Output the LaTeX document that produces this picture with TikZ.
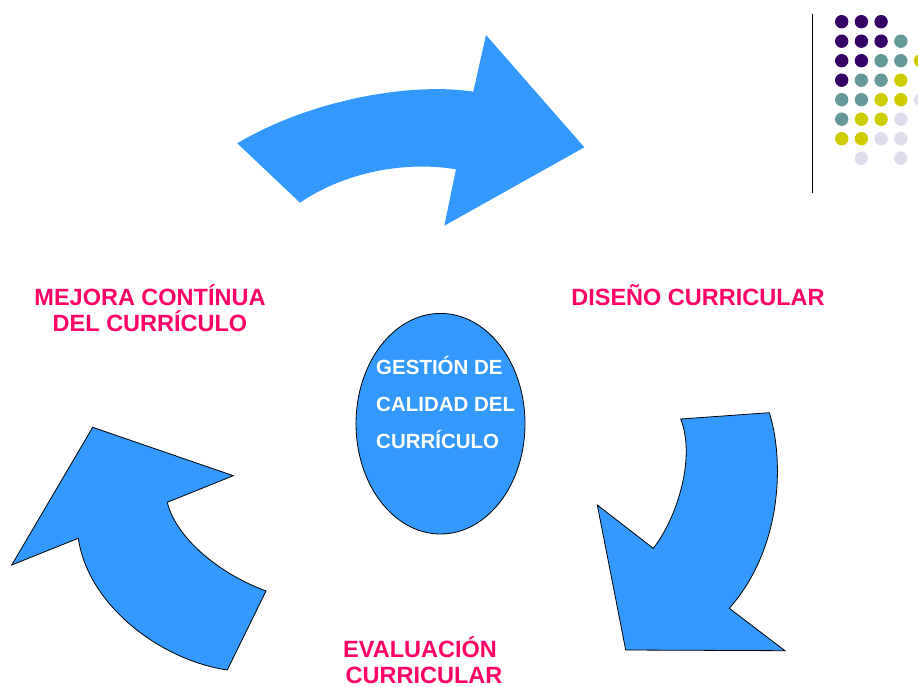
\documentclass[tikz,border=0pt]{standalone}
\usepackage{fontspec}
\setmainfont{Liberation Sans}
\usetikzlibrary{shapes.geometric}
\definecolor{arrowblue}{HTML}{3399FF}
\definecolor{labelpink}{HTML}{FF0066}
\definecolor{dotP}{HTML}{330066}
\definecolor{dotT}{HTML}{669999}
\definecolor{dotY}{HTML}{CCCC00}
\definecolor{dotL}{HTML}{DDDDEE}
\begin{document}
\begin{tikzpicture}[x=1pt,y=-1pt,
  arrowshape/.style={fill=arrowblue},
  outlined/.style={draw=black,line width=0.8pt,line join=miter},
  lbl/.style={text=labelpink,font=\fontsize{23.5}{27}\selectfont\bfseries,inner sep=0pt,anchor=base},
  intext/.style={text=white,font=\fontsize{20.5}{24}\selectfont\bfseries,inner sep=0pt,anchor=base west},
  dotstyle/.style={circle,inner sep=0pt,minimum size=13.4pt}]
\useasboundingbox (0,0) rectangle (918,687);

% top arrow (no outline)
\fill[arrowblue] (237.3,143.3) .. controls (310,100) and (410,82) .. (473.3,91.7)
  -- (486,35) -- (584.3,147.3) -- (444.3,225.7) -- (456,169.3)
  .. controls (400,160) and (340,175) .. (300,202.7) -- cycle;

% right arrow
\filldraw[arrowshape,outlined] (680.7,419) -- (769.3,412.7)
  .. controls (783,455) and (785,545) .. (729.3,608.3)
  -- (785,650.7) -- (625.7,650) -- (597.3,505) -- (653.3,548.3)
  .. controls (677,518) and (696,458) .. (680.7,419) -- cycle;

% left arrow
\filldraw[arrowshape,outlined] (92.7,427.3) -- (233.3,475.7) -- (167.3,502.3)
  .. controls (175,535) and (215,572) .. (266,591)
  -- (227.3,670)
  .. controls (160,660) and (88,605) .. (78.3,538.3)
  -- (11.7,565) -- cycle;

% centre ellipse
\node[ellipse,draw=black,line width=0.8pt,fill=arrowblue,minimum width=169pt,minimum height=220.6pt,inner sep=0pt] (centre) at (440.5,423.7) {};
\node[intext] (c1) at (376,374.3) {GESTIÓN DE};
\node[intext] (c2) at (376,411) {CALIDAD DEL};
\node[intext] (c3) at (376,448.3) {CURRÍCULO};

% labels
\node[lbl] (m1) at (150,305) {MEJORA CONTÍNUA};
\node[lbl] (m2) at (150,331.7) {DEL CURRÍCULO};
\node[lbl] (d1) at (698,305.5) {DISEÑO CURRICULAR};
\node[lbl] (e1) at (420,657.5) {EVALUACIÓN};
\node[lbl] (e2) at (424,683.5) {CURRICULAR};

% decoration top right
\draw[line width=1pt] (812.7,14) -- (812.7,193);
\foreach \c/\r/\col in {0/0/dotP,1/0/dotP,2/0/dotP,0/1/dotP,1/1/dotP,2/1/dotP,0/2/dotP,1/2/dotP,0/3/dotP,
  3/1/dotT,2/2/dotT,3/2/dotT,1/3/dotT,2/3/dotT,0/4/dotT,1/4/dotT,0/5/dotT,
  4/2/dotY,3/3/dotY,2/4/dotY,3/4/dotY,1/5/dotY,2/5/dotY,0/6/dotY,1/6/dotY,
  4/4/dotL,3/5/dotL,2/6/dotL,3/6/dotL,1/7/dotL,3/7/dotL}
  \node[dotstyle,fill=\col] (dot-\c-\r) at (841.7+19.7*\c,21.7+19.5*\r) {};
\end{tikzpicture}
\end{document}
